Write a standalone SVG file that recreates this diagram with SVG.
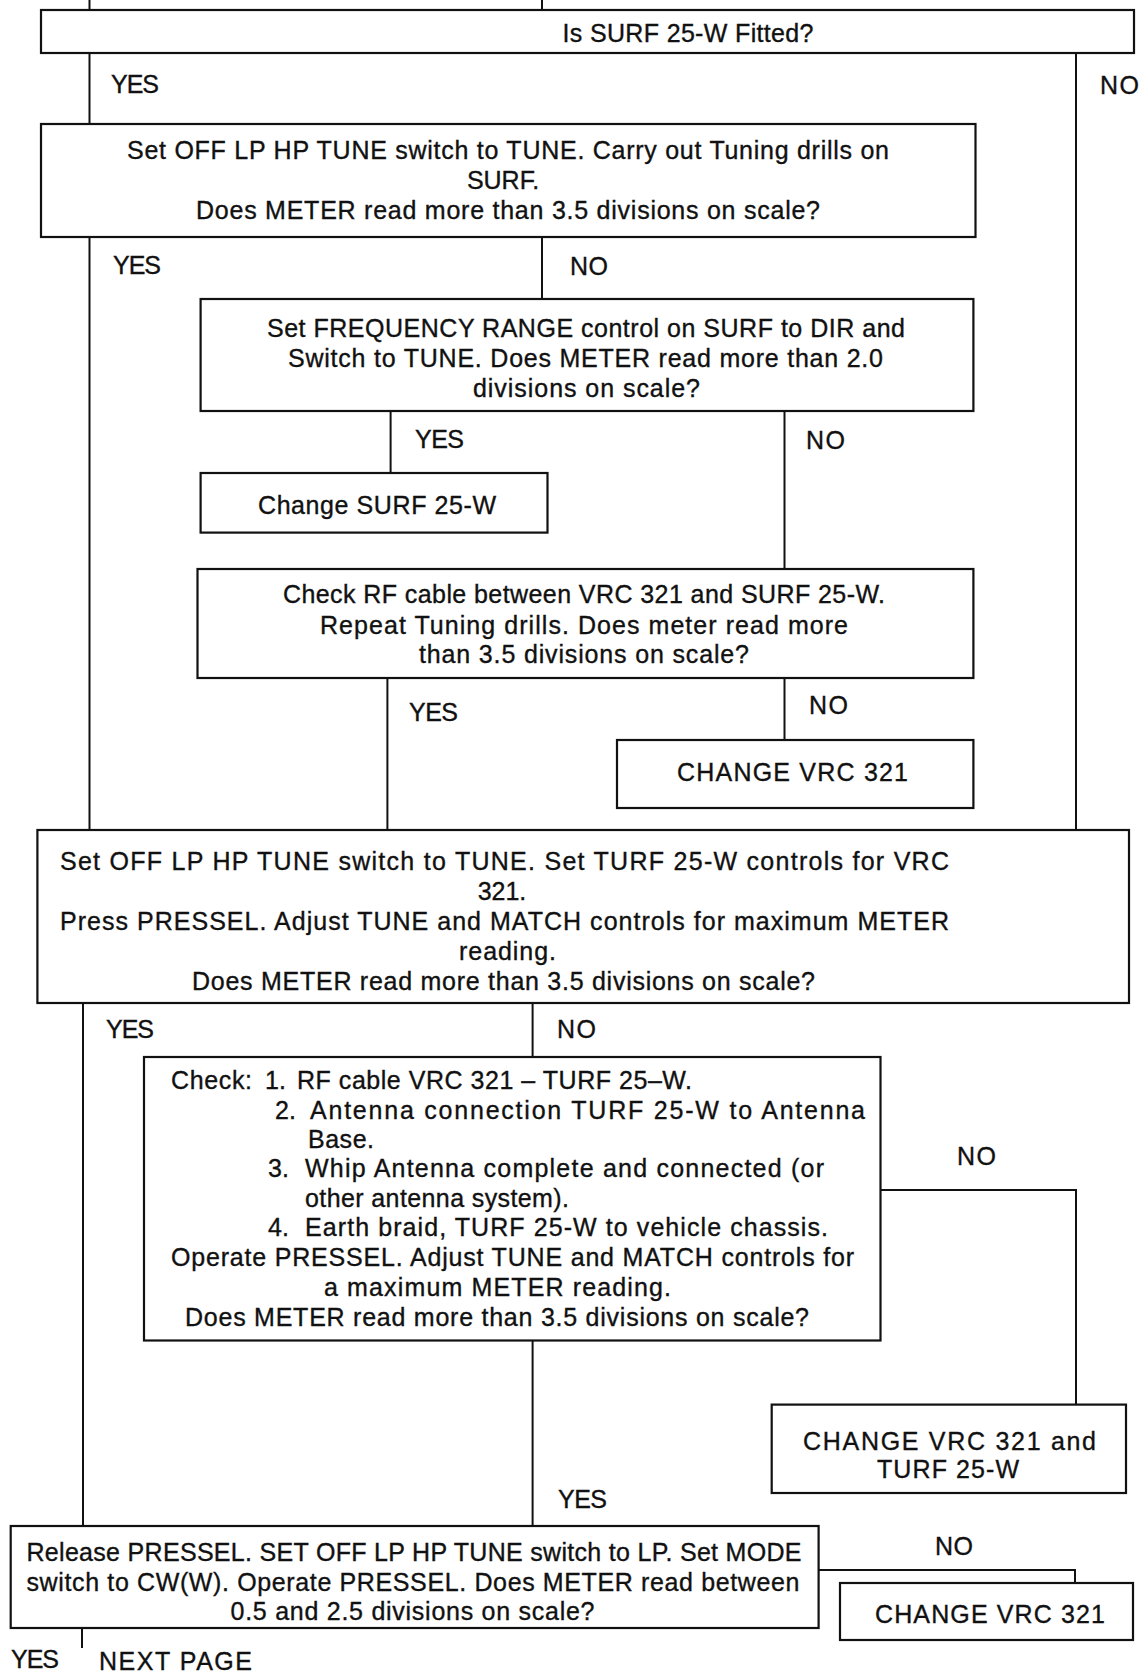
<svg xmlns="http://www.w3.org/2000/svg" width="1141" height="1674" viewBox="0 0 1141 1674">
<style>
.box{fill:#fff;stroke:#111;stroke-width:2.2}
.edge{fill:none;stroke:#111;stroke-width:2}
text{font-family:"Liberation Sans",Arial,sans-serif;font-size:25px;fill:#111;stroke:#111;stroke-width:0.35}
.c{text-anchor:middle}
</style>
<rect width="1141" height="1674" fill="#fff"/>
<g id="connectors">
<path class="edge" d="M89.5 0V10M542 0V10"/>
<path class="edge" d="M89.5 53V124M89.5 237V830"/>
<path class="edge" d="M1076 53V830"/>
<path class="edge" d="M542 237V299"/>
<path class="edge" d="M390.6 411V473"/>
<path class="edge" d="M784.5 411V569"/>
<path class="edge" d="M387.4 678V830"/>
<path class="edge" d="M784.5 678V740"/>
<path class="edge" d="M83 1003V1526"/>
<path class="edge" d="M532.6 1003V1057"/>
<path class="edge" d="M880.5 1190H1076V1404.6"/>
<path class="edge" d="M532.6 1340.5V1526"/>
<path class="edge" d="M818.6 1570H1075V1583"/>
<path class="edge" d="M82 1628V1648"/>
<text x="111" y="93" textLength="48">YES</text>
<text x="1100" y="94" textLength="39">NO</text>
<text x="113" y="274" textLength="48">YES</text>
<text x="570" y="275" textLength="38">NO</text>
<text x="415" y="448" textLength="49">YES</text>
<text x="806" y="449" textLength="39">NO</text>
<text x="409" y="721" textLength="49">YES</text>
<text x="809" y="714" textLength="39">NO</text>
<text x="106" y="1038" textLength="48">YES</text>
<text x="557" y="1038" textLength="39">NO</text>
<text x="957" y="1165" textLength="39">NO</text>
<text x="558" y="1508" textLength="49">YES</text>
<text x="935" y="1555" textLength="38">NO</text>
<text x="11" y="1668" textLength="48">YES</text>
<text x="99" y="1670" textLength="153">NEXT PAGE</text>
</g>
<g id="n1">
<rect class="box" x="41" y="10" width="1093" height="43"/>
<text class="c" x="688" y="42" textLength="251">Is SURF 25-W Fitted?</text>
</g>
<g id="n2">
<rect class="box" x="41" y="124" width="934.5" height="113"/>
<text class="c" x="508" y="159" textLength="762">Set OFF LP HP TUNE switch to TUNE. Carry out Tuning drills on</text>
<text class="c" x="503" y="189">SURF.</text>
<text class="c" x="508" y="219" textLength="624">Does METER read more than 3.5 divisions on scale?</text>
</g>
<g id="n3">
<rect class="box" x="200.6" y="299" width="772.8" height="112"/>
<text class="c" x="586" y="337" textLength="638">Set FREQUENCY RANGE control on SURF to DIR and</text>
<text class="c" x="585.5" y="367" textLength="595">Switch to TUNE. Does METER read more than 2.0</text>
<text class="c" x="586.5" y="397" textLength="227">divisions on scale?</text>
</g>
<g id="n4">
<rect class="box" x="200.6" y="473" width="346.9" height="59.6"/>
<text class="c" x="377" y="514" textLength="238">Change SURF 25-W</text>
</g>
<g id="n5">
<rect class="box" x="197.5" y="569" width="775.9" height="109"/>
<text class="c" x="584" y="603" textLength="602">Check RF cable between VRC 321 and SURF 25-W.</text>
<text class="c" x="584" y="634" textLength="528">Repeat Tuning drills. Does meter read more</text>
<text class="c" x="584" y="663" textLength="330">than 3.5 divisions on scale?</text>
</g>
<g id="n6">
<rect class="box" x="617" y="740" width="356.4" height="68"/>
<text class="c" x="792.5" y="781" textLength="231">CHANGE  VRC  321</text>
</g>
<g id="n7">
<rect class="box" x="37.4" y="830" width="1091.6" height="173"/>
<text class="c" x="504.5" y="870" textLength="889">Set OFF LP HP TUNE switch to TUNE. Set TURF 25-W controls for VRC</text>
<text class="c" x="502" y="900">321.</text>
<text class="c" x="504.5" y="930" textLength="889">Press PRESSEL. Adjust TUNE and MATCH controls for maximum METER</text>
<text class="c" x="507.5" y="960" textLength="97">reading.</text>
<text class="c" x="503.5" y="990" textLength="623">Does METER read more than 3.5 divisions on scale?</text>
</g>
<g id="n8">
<rect class="box" x="144" y="1057" width="736.5" height="283.5"/>
<text x="171" y="1089" textLength="81">Check:</text>
<text x="265" y="1089">1.</text>
<text x="297" y="1089" textLength="395">RF cable VRC 321 – TURF 25–W.</text>
<text x="275" y="1119">2.</text>
<text x="310" y="1119" textLength="555">Antenna connection TURF 25-W to Antenna</text>
<text x="308" y="1148" textLength="66">Base.</text>
<text x="268" y="1177">3.</text>
<text x="305" y="1177" textLength="519">Whip Antenna complete and connected (or</text>
<text x="305" y="1207" textLength="264">other antenna system).</text>
<text x="268" y="1236">4.</text>
<text x="305" y="1236" textLength="523">Earth braid, TURF 25-W to vehicle chassis.</text>
<text x="171" y="1266" textLength="683">Operate PRESSEL. Adjust TUNE and MATCH controls for</text>
<text x="324" y="1296" textLength="347">a maximum METER reading.</text>
<text x="185" y="1326" textLength="624">Does METER read more than 3.5 divisions on scale?</text>
</g>
<g id="n9">
<rect class="box" x="771.7" y="1404.6" width="354.3" height="88.4"/>
<text class="c" x="949.5" y="1450" textLength="293">CHANGE  VRC  321  and</text>
<text class="c" x="948" y="1478" textLength="142">TURF  25-W</text>
</g>
<g id="n10">
<rect class="box" x="10.7" y="1526" width="807.9" height="102"/>
<text class="c" x="414" y="1561" textLength="775">Release PRESSEL. SET OFF LP HP TUNE switch to LP. Set MODE</text>
<text class="c" x="413" y="1591" textLength="773">switch to CW(W). Operate PRESSEL. Does METER read between</text>
<text class="c" x="412.5" y="1620" textLength="364">0.5 and 2.5 divisions on scale?</text>
</g>
<g id="n11">
<rect class="box" x="840" y="1583" width="293" height="57"/>
<text class="c" x="990" y="1623" textLength="230">CHANGE  VRC  321</text>
</g>
</svg>
